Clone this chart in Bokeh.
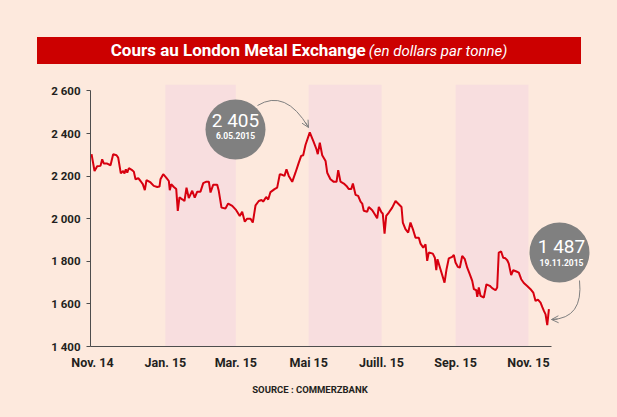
from bokeh.plotting import figure
from bokeh.models import Range1d, FixedTicker, BoxAnnotation, Label, Arrow, OpenHead, CustomJS, Div
from bokeh.layouts import column
from bokeh.io import curdoc
from bokeh.embed import file_html
from bokeh.resources import INLINE

# ---- data (x = days since 1 Nov 2014) ----
days = [-0.8, 1.7, 3.9, 6.7, 8.1, 9.5, 12.3, 15.1, 17.3, 20.1,
        21.5, 23.7, 25.7, 26.8, 27.9, 29.1, 30.4, 33.2, 34.6, 36.0,
        38.3, 40.2, 42.1, 43.8, 45.2, 48.6, 51.3, 54.2, 56.1, 56.9,
        59.2, 61.7, 63.9, 64.7, 65.9, 68.1, 70.1, 71.4, 72.8, 75.1,
        77.0, 78.7, 80.6, 83.5, 85.6, 87.7, 90.4, 92.7, 95.4, 97.4,
        98.8, 101.0, 104.4, 105.7, 108.0, 111.3, 113.6, 117.0, 120.3, 123.3,
        125.3, 127.5, 129.5, 132.3, 134.2, 136.5, 139.2, 141.5, 142.9, 145.4,
        147.1, 149.0, 152.4, 154.6, 156.8, 158.8, 160.7, 162.4, 164.3, 167.2,
        169.9, 172.7, 174.7, 176.4, 178.3, 181.9, 184.8, 187.5, 188.6, 190.3,
        192.3, 195.1, 196.5, 199.2, 202.0, 204.3, 205.7, 207.6, 210.4, 212.6,
        214.6, 216.6, 218.0, 220.2, 222.4, 224.4, 225.8, 227.1, 230.0, 231.3,
        234.2, 236.3, 238.3, 239.7, 242.0, 243.0, 244.5, 245.9, 248.1, 250.9,
        253.7, 256.4, 258.7, 259.8, 262.0, 264.3, 266.2, 268.5, 270.4, 273.2,
        274.6, 276.9, 278.8, 280.2, 281.5, 284.9, 286.6, 287.8, 288.8, 291.3,
        294.7, 296.4, 298.3, 301.1, 302.5, 303.9, 305.8, 307.5, 309.5, 311.7,
        313.7, 315.9, 317.9, 319.3, 321.3, 322.1, 323.4, 324.8, 327.6, 329.8,
        332.6, 334.6, 337.4, 338.8, 340.1, 342.1, 343.8, 345.7, 347.2, 348.5,
        350.5, 352.2, 354.9, 356.9, 358.9, 361.1, 363.9, 366.7, 369.0, 370.9,
        372.9, 375.1, 376.5, 377.9, 379.3, 380.7, 382.1]
prices = [2303, 2224, 2246, 2248, 2279, 2259, 2259, 2251, 2303, 2298,
          2287, 2213, 2224, 2212, 2232, 2216, 2237, 2228, 2221, 2185,
          2190, 2177, 2162, 2134, 2181, 2170, 2154, 2149, 2151, 2185,
          2209, 2193, 2177, 2134, 2162, 2149, 2139, 2037, 2100, 2091,
          2083, 2146, 2097, 2131, 2099, 2127, 2127, 2167, 2174, 2174,
          2123, 2159, 2159, 2131, 2052, 2048, 2071, 2060, 2040, 2013,
          2033, 1986, 2000, 2000, 1982, 2063, 2083, 2088, 2080, 2102,
          2090, 2125, 2139, 2146, 2209, 2206, 2201, 2232, 2201, 2173,
          2216, 2263, 2295, 2298, 2346, 2405, 2365, 2326, 2303, 2357,
          2298, 2271, 2216, 2185, 2173, 2173, 2228, 2174, 2165, 2154,
          2139, 2139, 2165, 2112, 2107, 2080, 2071, 2037, 2033, 2055,
          2040, 2021, 2002, 2055, 2029, 2024, 1930, 2013, 2029, 2052,
          2083, 2068, 2055, 1982, 1951, 1935, 1982, 1946, 1911, 1911,
          1883, 1864, 1880, 1802, 1841, 1836, 1817, 1758, 1810, 1763,
          1700, 1763, 1814, 1821, 1830, 1794, 1774, 1770, 1825, 1810,
          1770, 1739, 1708, 1669, 1664, 1633, 1677, 1638, 1630, 1692,
          1685, 1674, 1664, 1677, 1841, 1846, 1817, 1814, 1805, 1789,
          1735, 1758, 1752, 1747, 1716, 1698, 1684, 1669, 1653, 1614,
          1620, 1606, 1586, 1567, 1551, 1500, 1575]
assert len(days) == len(prices)

tick_days = [0, 61, 120, 181, 242, 304, 365]
tick_labels = ["Nov. 14", "Jan. 15", "Mar. 15", "Mai 15", "Juill. 15", "Sep. 15", "Nov. 15"]
y_ticks = [1400, 1600, 1800, 2000, 2200, 2400, 2600]
y_labels = ["1 400", "1 600", "1 800", "2 000", "2 200", "2 400", "2 600"]
shade_start = [61, 181, 304]
shade_end = [120, 242, 365]
peak_value, peak_date = "2 405", "6.05.2015"
low_value, low_date = "1 487", "19.11.2015"
title_main = "Cours au London Metal Exchange"
title_unit = "(en dollars par tonne)"
source_text = "SOURCE : COMMERZBANK"

# ---- styling ----
BG = "#FDE9DD"
BAND = "#F8DEDF"
RED = "#CC0000"
LINE = "#D7000F"
GRAY = "#808080"
DARK = "#231F20"
AX = "#4D4D4D"
FONT = "Roboto"

TOP = 70          # page y where the figure starts
FIG_H = 306

# page-pixel -> data helpers (layout only)
PXD = 1.1945
PYV = 200 / 42.6
def X(px):
    return (px - 92) / PXD
def Y(py):
    return 1400 + (346 - py) * PYV

title_div = Div(
    text=('<div style="padding:37px 0 0 37px;">'
          '<div style="width:544px;height:27px;line-height:27px;background:%s;color:white;'
          'text-align:center;white-space:nowrap;font-family:Roboto;">'
          '<span style="font-weight:bold;font-size:17px;">%s</span> '
          '<span style="font-style:italic;font-size:15px;">%s</span></div></div>')
         % (RED, title_main, title_unit),
    width=617, height=TOP, margin=(0, 0, 0, 0), styles={"background-color": BG})

p = figure(width=617, height=FIG_H, output_backend="svg", toolbar_location=None,
           x_range=Range1d(X(90), X(617)), y_range=Range1d(1400, Y(84)),
           min_border_left=90, min_border_right=0, min_border_top=84 - TOP,
           min_border_bottom=TOP + FIG_H - 346, margin=(0, 0, 0, 0),
           background_fill_color=BG, border_fill_color=BG, outline_line_color=None)
p.grid.visible = False

for s, e in zip(shade_start, shade_end):
    p.add_layout(BoxAnnotation(left=s, right=e, fill_color=BAND, fill_alpha=1,
                               line_color=None, level="underlay"))

p.line(days, prices, line_color=LINE, line_width=2)

# axes
xa = p.xaxis[0]
xa.ticker = FixedTicker(ticks=tick_days)
xa.major_label_overrides = dict(zip(tick_days, tick_labels))
xa.bounds = (X(90), X(551))
xa.major_tick_line_color = None
xa.major_tick_out = 0
xa.minor_tick_line_color = None
xa.axis_line_color = AX
xa.major_label_text_font = FONT
xa.major_label_text_font_style = "bold"
xa.major_label_text_font_size = "12.5px"
xa.major_label_text_color = DARK
xa.major_label_standoff = 8

ya = p.yaxis[0]
ya.ticker = FixedTicker(ticks=y_ticks)
ya.major_label_overrides = dict(zip(y_ticks, y_labels))
ya.bounds = (1400, 2600)
ya.major_tick_out = 4
ya.major_tick_in = 0
ya.major_tick_line_color = AX
ya.minor_tick_line_color = None
ya.axis_line_color = AX
ya.major_label_text_font = FONT
ya.major_label_text_font_style = "bold"
ya.major_label_text_font_size = "11.5px"
ya.major_label_text_color = DARK
ya.major_label_standoff = 6

# bubbles
p.scatter([X(235), X(559)], [Y(129), Y(252)], size=60, marker="circle",
          fill_color=GRAY, line_color=None)
for cx, cy1, cy2, big, small in [(235, 120, 135, peak_value, peak_date),
                                 (561, 246, 262, low_value, low_date)]:
    p.add_layout(Label(x=X(cx), y=Y(cy1), text=big, text_align="center", text_baseline="middle",
                       text_color="white", text_font=FONT, text_font_size="19px"))
    p.add_layout(Label(x=X(cx), y=Y(cy2), text=small, text_align="center", text_baseline="middle",
                       text_color="white", text_font=FONT, text_font_style="bold",
                       text_font_size="8.5px"))

# curved arrows
p.quadratic(x0=[X(257), X(579)], y0=[Y(105), Y(280)], x1=[X(308), X(551)], y1=[Y(127), Y(319)],
            cx=[X(285), X(583)], cy=[Y(88), Y(318)], line_color=GRAY, line_width=1)
p.add_layout(Arrow(end=OpenHead(size=7, line_color=GRAY, line_width=1),
                   x_start=X(305), y_start=Y(121.8), x_end=X(308), y_end=Y(127),
                   line_color=GRAY, line_width=1))
p.add_layout(Arrow(end=OpenHead(size=7, line_color=GRAY, line_width=1),
                   x_start=X(557), y_start=Y(318.8), x_end=X(551), y_end=Y(319),
                   line_color=GRAY, line_width=1))

source_div = Div(
    text=('<div style="padding-top:5px;width:617px;text-align:center;">'
          '<span style="display:inline-block;margin-left:3px;font-family:Roboto;font-weight:bold;'
          'font-size:9.5px;line-height:12px;color:%s;">%s</span></div>') % (DARK, source_text),
    width=617, height=40, margin=(0, 0, 0, 0), styles={"background-color": BG})

layout = column(title_div, p, source_div, spacing=0, margin=(0, 0, 0, 0),
                styles={"background-color": BG})

doc = curdoc()
doc.add_root(layout)
doc.js_on_event("document_ready", CustomJS(code="document.body.style.backgroundColor = '%s';" % BG))

open("out.html", "w").write(file_html(layout, INLINE))
